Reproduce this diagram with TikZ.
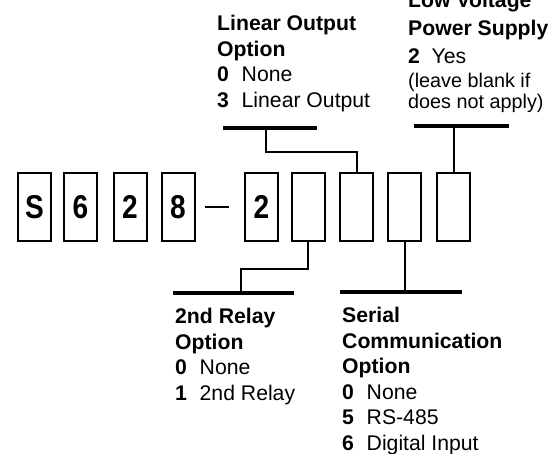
\documentclass[tikz,border=0pt]{standalone}
\usepackage{fontspec}
\setmainfont{Liberation Sans}
\newcommand\narrowdigit[1]{\scalebox{0.85}[1]{#1}}
\tikzset{
  digit/.style={draw, line width=2pt, minimum width=33pt, minimum height=68pt,
    inner sep=0pt, font=\fontsize{33}{33}\selectfont\bfseries},
  bar/.style={line width=4.5pt},
  wire/.style={line width=2pt},
  legend/.style={anchor=base west, align=left, inner sep=0pt,
    font=\fontsize{21.2}{25.5}\selectfont},
  note/.style={anchor=base west, align=left, inner sep=0pt,
    font=\fontsize{19.8}{21}\selectfont},
}
\begin{document}
\begin{tikzpicture}[x=1pt, y=-1pt]
    \useasboundingbox (0,0) rectangle (557,453);
    % model number boxes
    \node[digit] (b1) at (34.5,207) {\narrowdigit{S}};
    \node[digit] (b2) at (80.5,207) {\narrowdigit{6}};
    \node[digit] (b3) at (130,207) {\narrowdigit{2}};
    \node[digit] (b4) at (178,207) {\narrowdigit{8}};
    \node[digit] (b5) at (261.5,207) {\narrowdigit{2}};
    \node[digit] (b6) at (308,207) {};
    \node[digit] (b7) at (356.5,207) {};
    \node[digit] (b8) at (404.5,207) {};
    \node[digit] (b9) at (453.5,207) {};
    \draw[wire] ([xshift=9.5pt]b4.east) -- ([xshift=-15pt]b5.west);
    % linear output (base anchor = last line)
    \coordinate (loL) at (223,128);
    \coordinate (loR) at (317,128);
    \coordinate (lo) at (266,128);
    \draw[bar] (loL) -- (loR);
    \draw[wire] (lo) -- ++(0,24) -| (b7.north);
    \node[legend] (lotxt) at (217,107) {\textbf{Linear Output}\\\textbf{Option}\\
        \textbf{0}\hspace{.6em}None\\\textbf{3}\hspace{.6em}Linear Output};
    % low voltage supply
    \coordinate (lvL) at (414,126);
    \coordinate (lvR) at (509,126);
    \draw[bar] (lvL) -- (lvR);
    \draw[wire] (b9.north) -- (b9.north |- lvL);
    \node[legend] (lvtxt) at (408,63) {\textbf{Low Voltage}\\[2.5pt]\textbf{Power Supply}\\[2.5pt]
        \textbf{2}\hspace{.55em}Yes};
    \node[note] (lvnote) at (408,108) {(leave blank if\\does not apply)};
    % 2nd relay
    \coordinate (rlL) at (173,293);
    \coordinate (rlR) at (294,293);
    \coordinate (rl) at (241,293);
    \draw[bar] (rlL) -- (rlR);
    \draw[wire] (b6.south) -- ++(0,27) -| (rl);
    \node[legend] (rltxt) at (175,400) {\textbf{2nd Relay}\\\textbf{Option}\\
        \textbf{0}\hspace{.6em}None\\\textbf{1}\hspace{.6em}2nd Relay};
    % serial communication
    \coordinate (scL) at (340,292);
    \coordinate (scR) at (462,292);
    \draw[bar] (scL) -- (scR);
    \draw[wire] (b8.south) -- (b8.south |- scL);
    \node[legend] (sctxt) at (342,450) {\textbf{Serial}\\\textbf{Communication}\\\textbf{Option}\\
        \textbf{0}\hspace{.6em}None\\\textbf{5}\hspace{.6em}RS-485\\\textbf{6}\hspace{.6em}Digital Input};
\end{tikzpicture}
\end{document}
